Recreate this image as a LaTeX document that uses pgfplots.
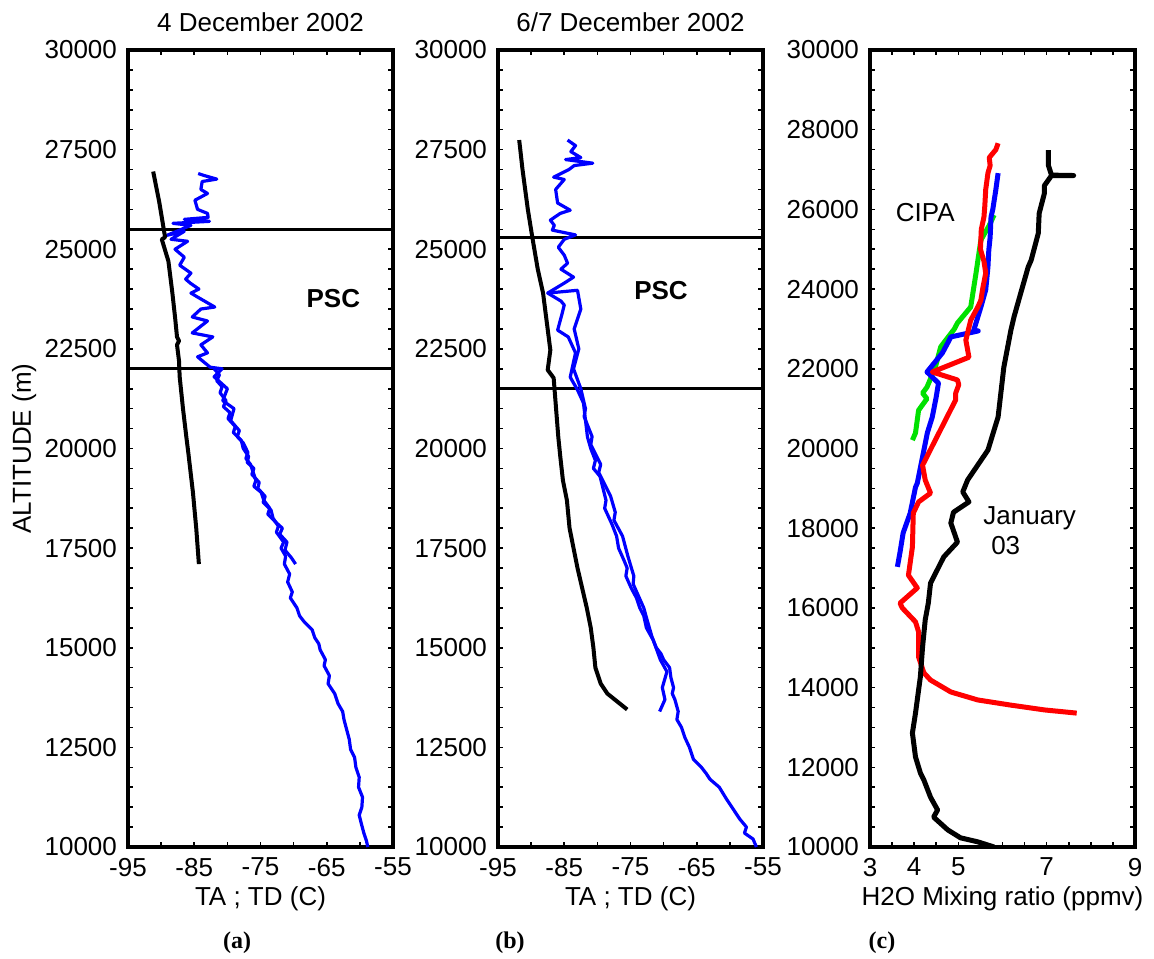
\documentclass[border=0pt]{standalone}
\usepackage{pgfplots}
\pgfplotsset{compat=1.18}
\usepackage{fontspec}
\setmainfont{Liberation Sans}
\newfontfamily\timesfont{Liberation Serif}
\definecolor{pblue}{RGB}{0,0,255}
\definecolor{pred}{RGB}{255,0,0}
\definecolor{pgreen}{RGB}{0,225,0}
\pgfplotsset{
 myaxis/.style={
  scale only axis, width=132.5pt, height=398.5pt, anchor=south west,
  ymin=10000, ymax=30000,
  axis line style={line width=2pt},
  tick style={line width=0.8pt, black},
  major tick length=2.5pt, minor tick length=2.5pt,
  scaled ticks=false,
  /pgf/number format/assume math mode=true,
  /pgf/number format/1000 sep={},
  tick label style={font=\fontsize{13}{15}\selectfont},
  every axis x label/.style={at={(axis description cs:0.5,-0.0652)}, anchor=center, font=\fontsize{13}{15}\selectfont},
  every axis title/.style={at={(axis description cs:0.5,1.0351)}, anchor=center, font=\fontsize{13}{15}\selectfont},
  xticklabel style={yshift=-2pt},
  yticklabel style={xshift=-2pt},
 },
 taxis/.style={myaxis, xmin=-95, xmax=-55, xtick={-95,-85,-75,-65,-55},
  minor x tick num=1, ytick={10000,12500,...,30000}, minor y tick num=4,
  xlabel={TA ; TD (C)}},
}
\begin{document}
\begin{tikzpicture}
\useasboundingbox (-64pt,-55.5pt) rectangle (513pt,423.5pt);
% ---------------- panel (a)
\begin{axis}[taxis, at={(0pt,0pt)}, title={4 December 2002},
  ylabel={ALTITUDE (m)},
  every axis y label/.style={at={(axis description cs:-0.392,0.5)}, rotate=90, anchor=center, font=\fontsize{13}{15}\selectfont}]
\addplot[black, line width=1.5pt, forget plot] coordinates {(-95,25500) (-55,25500)};
\addplot[black, line width=1.5pt, forget plot] coordinates {(-95,22000) (-55,22000)};
\addplot[pblue, line width=1.6pt, line join=round] coordinates {
(-84.4,26900) (-83.5,26850) (-81.6,26760) (-83.8,26700) (-84.0,26500) (-83.0,26400)
(-84.9,26230) (-84.5,26000) (-83.0,25900) (-82.9,25800) (-86.5,25750) (-82.7,25700)
(-88.2,25650) (-85.5,25600) (-89.1,25350) (-86.5,25450) (-88.5,25250) (-86.0,25200)
(-87.9,25000) (-86.5,24800) (-87.2,24600) (-85.5,24400) (-86.3,24250) (-85.6,24150)
(-84.3,24000) (-85.5,23900) (-84.5,23800) (-81.9,23550) (-84.0,23500) (-85.3,23300)
(-83.0,23200) (-85.3,22900) (-82.2,22800) (-84.0,22600) (-83.0,22400) (-84.5,22300)
(-82.6,22040) (-80.8,22000) (-82.0,21800) (-80.0,21500) (-80.7,21200) (-79.0,21000)
(-79.5,20700) (-78.2,20450) (-78.5,20300) (-77.6,20140) (-76.9,19900) (-77.2,19750)
(-76.5,19600) (-75.7,19200) (-76.0,19050) (-74.9,18900) (-74.5,18700) (-73.6,18500)
(-73.9,18350) (-72.7,18150) (-71.7,18000) (-72.1,17850) (-71.0,17650) (-71.3,17450)
(-70.3,17250) (-69.7,17100)};
\addplot[pblue, line width=1.6pt, line join=round] coordinates {
(-82.0,22000) (-81.2,21850) (-81.6,21700) (-80.8,21550) (-81.1,21400) (-80.2,21200)
(-80.6,21050) (-79.6,20900) (-79.9,20750) (-78.8,20550) (-79.1,20400) (-77.9,20200)
(-77.6,20000) (-76.8,19800) (-77.0,19650) (-76.0,19500) (-76.3,19350) (-75.2,19150)
(-75.4,19000) (-74.3,18800) (-74.6,18650) (-73.4,18450) (-73.1,18250) (-72.3,18050)
(-72.6,17900) (-71.5,17650) (-71.9,17500) (-71.2,17300) (-71.4,17100) (-70.6,16850)
(-70.9,16650) (-70.2,16400) (-70.5,16250) (-69.5,16000) (-69.1,15800) (-68.4,15650)
(-67.2,15450) (-66.8,15250) (-66.2,15100) (-66.0,14950) (-65.2,14700) (-65.4,14550)
(-64.6,14300) (-64.8,14100) (-63.8,13850) (-63.3,13600) (-62.6,13400) (-62.4,13200)
(-62.0,12950) (-61.6,12700) (-61.4,12450) (-60.8,12250) (-60.6,12000) (-60.1,11750)
(-60.2,11500) (-59.6,11250) (-59.7,11000) (-60.1,10800) (-59.8,10600) (-59.4,10350)
(-59.0,10150) (-58.8,10000)};
\addplot[black, line width=2pt, line join=round] coordinates {
(-91.2,26950) (-90.3,26200) (-89.4,25300) (-89.9,25250) (-88.9,24700) (-88.3,23900)
(-87.9,23300) (-87.6,22800) (-87.3,22700) (-87.6,22600) (-87.3,22200) (-87.2,21800)
(-86.7,21000) (-86.2,20300) (-85.9,19900) (-85.2,18900) (-84.7,18000) (-84.3,17100)};
\node[font=\fontsize{13}{15}\selectfont\bfseries] at (axis cs:-64.0,23775) {PSC};
\end{axis}
% ---------------- panel (b)
\begin{axis}[taxis, at={(185pt,0pt)}, title={6/7 December 2002}]
\addplot[black, line width=1.5pt, forget plot] coordinates {(-95,25300) (-55,25300)};
\addplot[black, line width=1.5pt, forget plot] coordinates {(-95,21500) (-55,21500)};
\addplot[pblue, line width=1.6pt, line join=round] coordinates {
(-84.5,27740) (-83.3,27600) (-84.0,27450) (-82.5,27300) (-84.8,27250) (-80.7,27160)
(-83.5,27100) (-84.3,27000) (-86.6,26810) (-85.0,26750) (-86.3,26500) (-86.0,26160)
(-84.1,25980) (-85.6,25900) (-87.1,25730) (-86.5,25600) (-86.8,25480) (-83.3,25360)
(-85.0,25250) (-85.9,25050) (-85.0,24850) (-84.5,24650) (-85.5,24500) (-83.6,24300)
(-85.0,24150) (-87.5,23900) (-85.5,23700) (-85.0,23600) (-85.3,23400) (-86.0,22970)
(-84.4,22800) (-83.3,22400) (-84.1,21790) (-83.0,21470) (-82.1,21140) (-81.5,20290)
(-81.0,20000) (-80.3,19700) (-80.6,19500) (-79.6,19300) (-78.7,18700) (-78.9,18500)
(-77.8,18100) (-77.1,17800) (-76.8,17500) (-76.0,17200) (-75.5,17000) (-75.7,16800)
(-74.9,16500) (-74.1,16250) (-73.6,16000) (-73.0,15800) (-72.6,15500) (-71.6,15200)
(-71.1,15000) (-70.4,14850) (-70.0,14700) (-69.1,14500) (-68.9,14250) (-68.5,14000)
(-68.7,13850) (-68.3,13700) (-67.8,13400) (-68.0,13200) (-67.3,13000) (-66.8,12750)
(-66.1,12500) (-65.5,12200) (-64.3,12000) (-63.6,11850) (-63.0,11700) (-61.6,11500)
(-60.5,11200) (-59.7,11000) (-58.5,10700) (-57.5,10500) (-57.8,10350) (-56.5,10200)
(-56.0,10000)};
\addplot[pblue, line width=1.6pt, line join=round] coordinates {
(-87.5,23900) (-83.0,23970) (-82.5,23500) (-83.5,23000) (-82.8,22500) (-83.6,22000)
(-82.5,21500) (-81.8,21000) (-82.0,20800) (-80.8,20300) (-81.0,20100) (-79.5,19600)
(-79.8,19400) (-78.0,18800) (-77.3,18400) (-77.5,18200) (-76.2,17800) (-75.4,17300)
(-74.5,16800) (-74.6,16600) (-73.0,16000) (-72.5,15700) (-71.8,15300) (-70.5,14700)
(-69.5,14400) (-70.2,14000) (-69.8,13700) (-70.6,13400)};
\addplot[black, line width=2pt, line join=round] coordinates {
(-91.8,27740) (-91.3,27000) (-90.5,26000) (-89.8,25280) (-89.0,24500) (-88.2,23900)
(-87.1,22470) (-87.5,21970) (-86.6,21770) (-85.9,20290) (-85.6,19800) (-85.2,19200)
(-84.6,18700) (-84.2,18000) (-83.6,17500) (-83.0,17000) (-82.3,16500) (-81.6,16000)
(-81.0,15500) (-80.6,15000) (-80.3,14500) (-79.5,14100) (-78.5,13850) (-77.0,13650)
(-75.5,13450)};
\node[font=\fontsize{13}{15}\selectfont\bfseries] at (axis cs:-70.4,23975) {PSC};
\end{axis}
% ---------------- panel (c)
\begin{axis}[myaxis, at={(371pt,0pt)}, xmin=3, xmax=9, xtick={3,4,5,7,9},
  minor xtick={3,3.5,...,9}, ytick={10000,12000,...,30000}, minor y tick num=3,
  xlabel={H2O Mixing ratio (ppmv)}]
\addplot[pgreen, line width=2.5pt, line join=round] coordinates {
(5.81,25860) (5.70,25600) (5.51,25230) (5.40,24400) (5.28,23550) (4.98,23150)
(4.91,23000) (4.60,22550) (4.48,22040) (4.29,21540) (4.19,21390) (4.29,21250)
(4.10,20960) (4.03,20390) (3.96,20210)};
\addplot[pblue, line width=2.5pt, line join=round] coordinates {
(5.90,26910) (5.85,26500) (5.78,26000) (5.74,25810) (5.72,25300) (5.69,24980)
(5.67,24550) (5.62,23980) (5.51,23550) (5.35,22970) (5.45,22950) (4.83,22800)
(4.76,22650) (4.64,22400) (4.29,21920) (4.55,21640) (4.50,21300) (4.41,20790)
(4.30,20400) (4.22,19960) (4.07,19130) (4.03,19030) (3.91,18380) (3.75,17880)
(3.68,17400) (3.62,17030)};
\addplot[pred, line width=2.5pt, line join=round] coordinates {
(5.90,27660) (5.85,27500) (5.70,27300) (5.72,27100) (5.67,26910) (5.62,26500)
(5.60,26100) (5.58,25810) (5.52,25500) (5.50,25000) (5.58,24700) (5.62,24400)
(5.55,24000) (5.51,23720) (5.44,23550) (5.28,23220) (5.17,22720) (5.24,22290)
(4.41,21920) (4.98,21720) (5.01,21600) (4.94,21390) (4.94,21220) (4.19,19580)
(4.25,19210) (4.37,18880) (4.10,18660) (3.98,18380) (3.96,17530) (3.87,16820)
(4.07,16500) (3.68,16120) (3.73,16000) (4.03,15650) (4.10,15400) (4.10,14770)
(4.22,14370) (4.37,14190) (4.83,13890) (5.44,13690) (6.19,13560) (6.95,13440)
(7.68,13360)};
\addplot[black, line width=2.5pt, line join=round] coordinates {
(7.04,27490) (7.04,27100) (7.11,26860) (7.61,26850) (7.11,26850) (6.95,26600)
(6.95,26410) (6.83,25900) (6.81,25400) (6.65,24730) (6.58,24550) (6.40,23850)
(6.26,23300) (6.19,22970) (6.03,22040) (5.90,20790) (5.67,19960) (5.21,19210)
(5.10,18910) (5.24,18660) (4.89,18400) (4.83,18130) (4.98,17650) (4.67,17280)
(4.37,16620) (4.32,16120) (4.25,15700) (4.19,15020) (4.14,14270) (4.03,13360)
(3.96,12860) (4.03,12260) (4.14,11860) (4.22,11680) (4.37,11250) (4.53,10930)
(4.44,10750) (4.76,10430) (5.05,10230) (5.44,10130) (5.81,10000)};
\node[font=\fontsize{13}{15}\selectfont] at (axis cs:4.25,25930) {CIPA};
\node[font=\fontsize{13}{15}\selectfont, anchor=north west, align=left, inner sep=0pt]
  at (axis cs:5.56,18550) {January\\\hspace*{0.3em}03};
\end{axis}
\node[font=\fontsize{12}{14}\selectfont\timesfont\bfseries] at (54.5pt,-48pt) {(a)};
\node[font=\fontsize{12}{14}\selectfont\timesfont\bfseries] at (191pt,-48pt) {(b)};
\node[font=\fontsize{12}{14}\selectfont\timesfont\bfseries] at (377pt,-48pt) {(c)};
\end{tikzpicture}
\end{document}
